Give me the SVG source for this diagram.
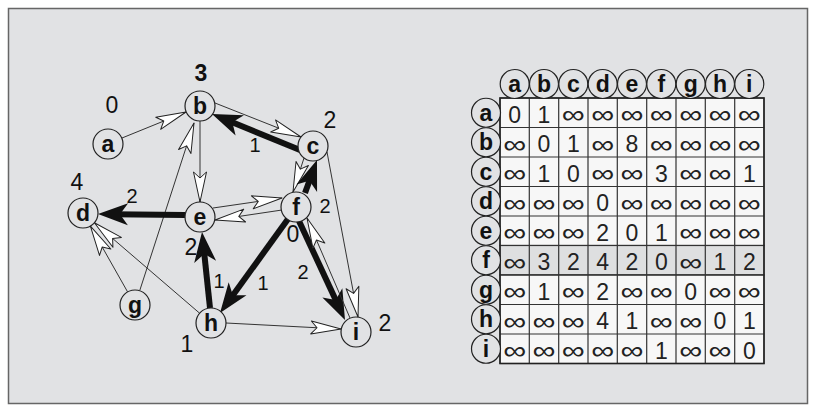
<svg xmlns="http://www.w3.org/2000/svg" width="816" height="412" viewBox="0 0 816 412">
<style>
.bg{fill:#e1e2e4;stroke:#666;stroke-width:1.5}
.node circle{fill:#e1e2e4;stroke:#222;stroke-width:1.2}
.lbl{font-family:"Liberation Sans",Arial,sans-serif;font-weight:bold;font-size:23px;fill:#111;text-anchor:middle}
.dist{font-family:"Liberation Sans",Arial,sans-serif;font-size:23px;fill:#111;text-anchor:middle}
.bold{font-weight:bold}
.w{font-family:"Liberation Sans",Arial,sans-serif;font-size:20px;fill:#111;text-anchor:middle}
.thin{fill:none;stroke:#333;stroke-width:1;marker-end:url(#open)}
.heavy{fill:none;stroke:#111;stroke-width:6;marker-end:url(#solid)}
.cell{fill:#f7f7f7;stroke:#333;stroke-width:1.2}
.cellg{fill:#dedfe0;stroke:#333;stroke-width:1.2}
.num{font-family:"Liberation Sans",Arial,sans-serif;font-size:23px;fill:#222;text-anchor:middle}
.inf{font-family:"Liberation Sans",Arial,sans-serif;font-size:25px;fill:#222;text-anchor:middle}
.hc{fill:#e1e2e4;stroke:#222;stroke-width:1.2}
</style>
<defs>
<marker id="open" viewBox="-32 -8 34 16" markerWidth="34" markerHeight="16" refX="0" refY="0" orient="auto" markerUnits="userSpaceOnUse" overflow="visible">
<path d="M0,0 L-30,-6.5 L-24,0 L-30,6.5 Z" fill="#fff" stroke="#222" stroke-width="1" stroke-linejoin="round"/>
</marker>
<marker id="solid" viewBox="-32 -12 34 24" markerWidth="34" markerHeight="24" refX="-14" refY="0" orient="auto" markerUnits="userSpaceOnUse" overflow="visible">
<path d="M0,0 L-30,-11 L-22,0 L-30,11 Z" fill="#111"/>
</marker>
</defs>
<rect class="bg" x="8.5" y="8.5" width="799" height="395"/>
<g id="connectors">
<path class="thin" d="M122,138 L186,112"/>
<path class="thin" d="M139.7,290.7 L194,123"/>
<path class="thin" d="M200,121 L200,202"/>
<path class="thin" d="M215,103 L301,137"/>
<path class="heavy" d="M300,150 L224.96,119.3"/>
<path class="thin" d="M304,158 L293,192"/>
<path class="heavy" d="M305,193 L312.2,173.2"/>
<path class="thin" d="M327,152 L358,317"/>
<path class="heavy" d="M299,221 L339.1,307.3"/>
<path class="thin" d="M350,318 L307,218"/>
<path class="thin" d="M213,208 L282,198"/>
<path class="thin" d="M282,210 L215,220"/>
<path class="heavy" d="M185,215 L112,214.16"/>
<path class="thin" d="M127.6,291.9 L90.4,226.1"/>
<path class="thin" d="M199.6,313.2 L94.4,222.8"/>
<path class="heavy" d="M210,308 L203.47,245.92"/>
<path class="heavy" d="M288,219 L228.2,301.7"/>
<path class="thin" d="M226,323 L341,329"/>
<text class="w" x="255" y="152">1</text>
<text class="w" x="132" y="203">2</text>
<text class="w" x="325" y="213">2</text>
<text class="w" x="219" y="288">1</text>
<text class="w" x="263" y="290">1</text>
<text class="w" x="303" y="279">2</text>
</g>
<g id="node-a" class="node"><circle cx="108" cy="144" r="15"/><text class="lbl" x="108" y="152">a</text><text class="dist" x="112" y="113">0</text></g>
<g id="node-b" class="node"><circle cx="200" cy="106" r="15"/><text class="lbl" x="200" y="114">b</text><text class="dist bold" x="201" y="81">3</text></g>
<g id="node-c" class="node"><circle cx="313" cy="146" r="15"/><text class="lbl" x="313" y="154">c</text><text class="dist" x="330" y="128">2</text></g>
<g id="node-d" class="node"><circle cx="83" cy="213" r="15"/><text class="lbl" x="83" y="221">d</text><text class="dist" x="77" y="190">4</text></g>
<g id="node-e" class="node"><circle cx="200" cy="217" r="15"/><text class="lbl" x="200" y="225">e</text><text class="dist" x="191" y="255">2</text></g>
<g id="node-f" class="node"><circle cx="296" cy="207" r="15"/><text class="lbl" x="296" y="215">f</text><text class="dist" x="293" y="242">0</text></g>
<g id="node-g" class="node"><circle cx="135" cy="305" r="15"/><text class="lbl" x="135" y="313">g</text></g>
<g id="node-h" class="node"><circle cx="211" cy="323" r="15"/><text class="lbl" x="211" y="331">h</text><text class="dist" x="187" y="352">1</text></g>
<g id="node-i" class="node"><circle cx="356" cy="332" r="15"/><text class="lbl" x="356" y="340">i</text><text class="dist" x="385" y="331">2</text></g>
<g id="table">
<g id="cells">
<rect class="cell" x="500" y="98" width="264" height="147.5"/>
<rect class="cellg" x="500" y="245.5" width="264" height="29.5"/>
<rect class="cell" x="500" y="275" width="264" height="88.5"/>
<path d="M529.3,98V363.5M558.7,98V363.5M588,98V363.5M617.3,98V363.5M646.7,98V363.5M676,98V363.5M705.3,98V363.5M734.7,98V363.5M500,127.5H764M500,157H764M500,186.5H764M500,216H764M500,245.5H764M500,275H764M500,304.5H764M500,334H764" stroke="#333" stroke-width="1.2" fill="none"/>
<rect x="500" y="98" width="264" height="265.5" fill="none" stroke="#222" stroke-width="1.5"/>
</g>
<g id="col-headers">
<circle class="hc" cx="514.7" cy="84" r="14.5"/><text class="lbl" x="514.7" y="92">a</text>
<circle class="hc" cx="544" cy="84" r="14.5"/><text class="lbl" x="544" y="92">b</text>
<circle class="hc" cx="573.3" cy="84" r="14.5"/><text class="lbl" x="573.3" y="92">c</text>
<circle class="hc" cx="602.7" cy="84" r="14.5"/><text class="lbl" x="602.7" y="92">d</text>
<circle class="hc" cx="632" cy="84" r="14.5"/><text class="lbl" x="632" y="92">e</text>
<circle class="hc" cx="661.3" cy="84" r="14.5"/><text class="lbl" x="661.3" y="92">f</text>
<circle class="hc" cx="690.7" cy="84" r="14.5"/><text class="lbl" x="690.7" y="92">g</text>
<circle class="hc" cx="720" cy="84" r="14.5"/><text class="lbl" x="720" y="92">h</text>
<circle class="hc" cx="749.3" cy="84" r="14.5"/><text class="lbl" x="749.3" y="92">i</text>
</g>
<g id="row-headers">
<circle class="hc" cx="486" cy="112.75" r="14.5"/><text class="lbl" x="486" y="120.75">a</text>
<circle class="hc" cx="486" cy="142.25" r="14.5"/><text class="lbl" x="486" y="150.25">b</text>
<circle class="hc" cx="486" cy="171.75" r="14.5"/><text class="lbl" x="486" y="179.75">c</text>
<circle class="hc" cx="486" cy="201.25" r="14.5"/><text class="lbl" x="486" y="209.25">d</text>
<circle class="hc" cx="486" cy="230.75" r="14.5"/><text class="lbl" x="486" y="238.75">e</text>
<circle class="hc" cx="486" cy="260.25" r="14.5"/><text class="lbl" x="486" y="268.25">f</text>
<circle class="hc" cx="486" cy="289.75" r="14.5"/><text class="lbl" x="486" y="297.75">g</text>
<circle class="hc" cx="486" cy="319.25" r="14.5"/><text class="lbl" x="486" y="327.25">h</text>
<circle class="hc" cx="486" cy="348.75" r="14.5"/><text class="lbl" x="486" y="356.75">i</text>
</g>
<g id="values">
<text class="num" x="514.7" y="122.5">0</text><text class="num" x="544" y="122.5">1</text><text class="inf" x="573.3" y="123" textLength="23" lengthAdjust="spacingAndGlyphs">∞</text><text class="inf" x="602.7" y="123" textLength="23" lengthAdjust="spacingAndGlyphs">∞</text><text class="inf" x="632" y="123" textLength="23" lengthAdjust="spacingAndGlyphs">∞</text><text class="inf" x="661.3" y="123" textLength="23" lengthAdjust="spacingAndGlyphs">∞</text><text class="inf" x="690.7" y="123" textLength="23" lengthAdjust="spacingAndGlyphs">∞</text><text class="inf" x="720" y="123" textLength="23" lengthAdjust="spacingAndGlyphs">∞</text><text class="inf" x="749.3" y="123" textLength="23" lengthAdjust="spacingAndGlyphs">∞</text>
<text class="inf" x="514.7" y="152.5" textLength="23" lengthAdjust="spacingAndGlyphs">∞</text><text class="num" x="544" y="152">0</text><text class="num" x="573.3" y="152">1</text><text class="inf" x="602.7" y="152.5" textLength="23" lengthAdjust="spacingAndGlyphs">∞</text><text class="num" x="632" y="152">8</text><text class="inf" x="661.3" y="152.5" textLength="23" lengthAdjust="spacingAndGlyphs">∞</text><text class="inf" x="690.7" y="152.5" textLength="23" lengthAdjust="spacingAndGlyphs">∞</text><text class="inf" x="720" y="152.5" textLength="23" lengthAdjust="spacingAndGlyphs">∞</text><text class="inf" x="749.3" y="152.5" textLength="23" lengthAdjust="spacingAndGlyphs">∞</text>
<text class="inf" x="514.7" y="182" textLength="23" lengthAdjust="spacingAndGlyphs">∞</text><text class="num" x="544" y="181.5">1</text><text class="num" x="573.3" y="181.5">0</text><text class="inf" x="602.7" y="182" textLength="23" lengthAdjust="spacingAndGlyphs">∞</text><text class="inf" x="632" y="182" textLength="23" lengthAdjust="spacingAndGlyphs">∞</text><text class="num" x="661.3" y="181.5">3</text><text class="inf" x="690.7" y="182" textLength="23" lengthAdjust="spacingAndGlyphs">∞</text><text class="inf" x="720" y="182" textLength="23" lengthAdjust="spacingAndGlyphs">∞</text><text class="num" x="749.3" y="181.5">1</text>
<text class="inf" x="514.7" y="211.5" textLength="23" lengthAdjust="spacingAndGlyphs">∞</text><text class="inf" x="544" y="211.5" textLength="23" lengthAdjust="spacingAndGlyphs">∞</text><text class="inf" x="573.3" y="211.5" textLength="23" lengthAdjust="spacingAndGlyphs">∞</text><text class="num" x="602.7" y="211">0</text><text class="inf" x="632" y="211.5" textLength="23" lengthAdjust="spacingAndGlyphs">∞</text><text class="inf" x="661.3" y="211.5" textLength="23" lengthAdjust="spacingAndGlyphs">∞</text><text class="inf" x="690.7" y="211.5" textLength="23" lengthAdjust="spacingAndGlyphs">∞</text><text class="inf" x="720" y="211.5" textLength="23" lengthAdjust="spacingAndGlyphs">∞</text><text class="inf" x="749.3" y="211.5" textLength="23" lengthAdjust="spacingAndGlyphs">∞</text>
<text class="inf" x="514.7" y="241" textLength="23" lengthAdjust="spacingAndGlyphs">∞</text><text class="inf" x="544" y="241" textLength="23" lengthAdjust="spacingAndGlyphs">∞</text><text class="inf" x="573.3" y="241" textLength="23" lengthAdjust="spacingAndGlyphs">∞</text><text class="num" x="602.7" y="240.5">2</text><text class="num" x="632" y="240.5">0</text><text class="num" x="661.3" y="240.5">1</text><text class="inf" x="690.7" y="241" textLength="23" lengthAdjust="spacingAndGlyphs">∞</text><text class="inf" x="720" y="241" textLength="23" lengthAdjust="spacingAndGlyphs">∞</text><text class="inf" x="749.3" y="241" textLength="23" lengthAdjust="spacingAndGlyphs">∞</text>
<text class="inf" x="514.7" y="270.5" textLength="23" lengthAdjust="spacingAndGlyphs">∞</text><text class="num" x="544" y="270">3</text><text class="num" x="573.3" y="270">2</text><text class="num" x="602.7" y="270">4</text><text class="num" x="632" y="270">2</text><text class="num" x="661.3" y="270">0</text><text class="inf" x="690.7" y="270.5" textLength="23" lengthAdjust="spacingAndGlyphs">∞</text><text class="num" x="720" y="270">1</text><text class="num" x="749.3" y="270">2</text>
<text class="inf" x="514.7" y="300" textLength="23" lengthAdjust="spacingAndGlyphs">∞</text><text class="num" x="544" y="299.5">1</text><text class="inf" x="573.3" y="300" textLength="23" lengthAdjust="spacingAndGlyphs">∞</text><text class="num" x="602.7" y="299.5">2</text><text class="inf" x="632" y="300" textLength="23" lengthAdjust="spacingAndGlyphs">∞</text><text class="inf" x="661.3" y="300" textLength="23" lengthAdjust="spacingAndGlyphs">∞</text><text class="num" x="690.7" y="299.5">0</text><text class="inf" x="720" y="300" textLength="23" lengthAdjust="spacingAndGlyphs">∞</text><text class="inf" x="749.3" y="300" textLength="23" lengthAdjust="spacingAndGlyphs">∞</text>
<text class="inf" x="514.7" y="329.5" textLength="23" lengthAdjust="spacingAndGlyphs">∞</text><text class="inf" x="544" y="329.5" textLength="23" lengthAdjust="spacingAndGlyphs">∞</text><text class="inf" x="573.3" y="329.5" textLength="23" lengthAdjust="spacingAndGlyphs">∞</text><text class="num" x="602.7" y="329">4</text><text class="num" x="632" y="329">1</text><text class="inf" x="661.3" y="329.5" textLength="23" lengthAdjust="spacingAndGlyphs">∞</text><text class="inf" x="690.7" y="329.5" textLength="23" lengthAdjust="spacingAndGlyphs">∞</text><text class="num" x="720" y="329">0</text><text class="num" x="749.3" y="329">1</text>
<text class="inf" x="514.7" y="359" textLength="23" lengthAdjust="spacingAndGlyphs">∞</text><text class="inf" x="544" y="359" textLength="23" lengthAdjust="spacingAndGlyphs">∞</text><text class="inf" x="573.3" y="359" textLength="23" lengthAdjust="spacingAndGlyphs">∞</text><text class="inf" x="602.7" y="359" textLength="23" lengthAdjust="spacingAndGlyphs">∞</text><text class="inf" x="632" y="359" textLength="23" lengthAdjust="spacingAndGlyphs">∞</text><text class="num" x="661.3" y="358.5">1</text><text class="inf" x="690.7" y="359" textLength="23" lengthAdjust="spacingAndGlyphs">∞</text><text class="inf" x="720" y="359" textLength="23" lengthAdjust="spacingAndGlyphs">∞</text><text class="num" x="749.3" y="358.5">0</text>
</g>
</g>
</svg>
